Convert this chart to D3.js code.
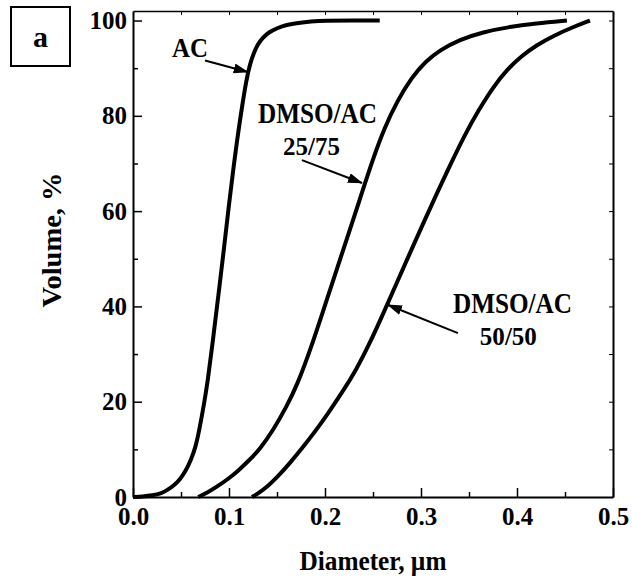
<!DOCTYPE html>
<html>
<head>
<meta charset="utf-8">
<script src="https://cdn.jsdelivr.net/npm/d3@7"></script>
<style>
body { margin: 0; background: #ffffff; }
text { font-family: "Liberation Serif", "Times New Roman", serif; font-weight: bold; fill: #000000; }
</style>
</head>
<body>
<script>
// axis ticks
var xTicks = [0, 0.1, 0.2, 0.3, 0.4, 0.5];
var xTickLabels = ["0.0", "0.1", "0.2", "0.3", "0.4", "0.5"];
var xMinorTicks = [0.05, 0.15, 0.25, 0.35, 0.45];
var yTicks = [0, 20, 40, 60, 80, 100];
var yTickLabels = ["0", "20", "40", "60", "80", "100"];
var yMinorTicks = [10, 30, 50, 70, 90];

// AC
var acDiam = [0.000, 0.010, 0.020, 0.030, 0.036, 0.043, 0.049, 0.055, 0.060, 0.065, 0.069, 0.074, 0.078, 0.083, 0.089, 0.095, 0.100, 0.104, 0.108, 0.113, 0.118, 0.122, 0.126, 0.130, 0.135, 0.142, 0.150, 0.160, 0.172, 0.185, 0.200, 0.230, 0.257];
var acVol = [0, 0.1, 0.3, 0.8, 1.5, 2.5, 3.7, 5.5, 7.6, 10.3, 14, 19.5, 24.5, 32.5, 42.4, 52.5, 61.5, 68, 74.3, 81.2, 87.5, 91, 93.3, 95, 96.4, 97.6, 98.4, 99.1, 99.5, 99.8, 100, 100, 100];

// DMSO/AC 25/75
var d25Diam = [0.068, 0.078, 0.087, 0.100, 0.110, 0.120, 0.132, 0.146, 0.160, 0.171, 0.185, 0.202, 0.220, 0.236, 0.250, 0.262, 0.275, 0.290, 0.305, 0.320, 0.340, 0.365, 0.390, 0.420, 0.452];
var d25Vol = [0, 1, 2.1, 3.9, 5.6, 7.5, 10, 14, 19, 23.5, 31, 41.5, 52.5, 62.3, 71, 77.5, 83, 88, 91.5, 93.8, 96, 97.6, 98.6, 99.4, 100];

// DMSO/AC 50/50
var d50Diam = [0.124, 0.132, 0.140, 0.150, 0.163, 0.176, 0.190, 0.204, 0.218, 0.232, 0.246, 0.260, 0.274, 0.288, 0.302, 0.316, 0.330, 0.345, 0.360, 0.375, 0.390, 0.405, 0.420, 0.438, 0.458, 0.476];
var d50Vol = [0, 1, 2.2, 4.1, 7, 10.2, 13.8, 17.8, 22, 26.5, 32, 38.2, 44.6, 51, 57.3, 63.5, 69.5, 75.8, 81.2, 86, 89.8, 92.6, 94.8, 96.8, 98.6, 100];

var width = 632;
var height = 577;
var svg = d3.select("body")
	.append("svg")
	.attr("width", width)
	.attr("height", height);

var x = d3.scaleLinear()
	.domain([0, 0.5])
	.range([133, 613]);
var y = d3.scaleLinear()
	.domain([0, 102])
	.range([497, 11]);

function styleAxis (g, lineWidth) {
	g.attr("font-size", 25)
		.attr("font-family", "Liberation Serif")
		.attr("font-weight", "bold");
	g.select(".domain").attr("stroke-width", lineWidth);
	g.selectAll(".tick line").attr("stroke-width", 1.5);
}

// bottom + left main axes
svg.append("g")
	.attr("transform", "translate(0,497)")
	.call(d3.axisBottom(x)
		.tickValues(xTicks)
		.tickFormat(function (d, i) { return xTickLabels[i]; })
		.tickSizeInner(-9)
		.tickSizeOuter(0)
		.tickPadding(10))
	.call(styleAxis, 2);
svg.append("g")
	.attr("transform", "translate(0,497)")
	.call(d3.axisBottom(x)
		.tickValues(xMinorTicks)
		.tickFormat("")
		.tickSize(-5))
	.call(function (g) { g.select(".domain").remove(); g.selectAll("line").attr("stroke-width", 1.5); });

svg.append("g")
	.attr("transform", "translate(133,0)")
	.call(d3.axisLeft(y)
		.tickValues(yTicks)
		.tickFormat(function (d, i) { return yTickLabels[i]; })
		.tickSizeInner(-9)
		.tickSizeOuter(0)
		.tickPadding(6))
	.call(styleAxis, 2);
svg.append("g")
	.attr("transform", "translate(133,0)")
	.call(d3.axisLeft(y)
		.tickValues(yMinorTicks)
		.tickFormat("")
		.tickSize(-5))
	.call(function (g) { g.select(".domain").remove(); g.selectAll("line").attr("stroke-width", 1.5); });

// top + right frame with small ticks
svg.append("g")
	.attr("transform", "translate(0,11)")
	.call(d3.axisTop(x)
		.tickValues(d3.merge([xMinorTicks, xTicks.slice(1, 5)]))
		.tickFormat("")
		.tickSizeInner(-4)
		.tickSizeOuter(0))
	.call(function (g) { g.select(".domain").attr("stroke-width", 1.5); g.selectAll("line").attr("stroke-width", 1); });
svg.append("g")
	.attr("transform", "translate(613,0)")
	.call(d3.axisRight(y)
		.tickValues(d3.merge([yMinorTicks, yTicks.slice(1)]))
		.tickFormat("")
		.tickSizeInner(-4)
		.tickSizeOuter(0))
	.call(function (g) { g.select(".domain").attr("stroke-width", 2); g.selectAll("line").attr("stroke-width", 1); });

// axis titles
svg.append("text")
	.attr("x", 373)
	.attr("y", 570)
	.attr("text-anchor", "middle")
	.attr("font-size", 27)
	.attr("textLength", 147)
	.attr("lengthAdjust", "spacingAndGlyphs")
	.text("Diameter, \u00b5m");
svg.append("text")
	.attr("transform", "translate(61,240) rotate(-90)")
	.attr("text-anchor", "middle")
	.attr("font-size", 27)
	.attr("textLength", 135)
	.attr("lengthAdjust", "spacingAndGlyphs")
	.text("Volume, %");

// curves
var line = d3.line()
	.x(function (d) { return x(d[0]); })
	.y(function (d) { return y(d[1]); })
	.curve(d3.curveBasis);
[d3.zip(acDiam, acVol), d3.zip(d25Diam, d25Vol), d3.zip(d50Diam, d50Vol)].forEach(function (data) {
	svg.append("path")
		.datum(data)
		.attr("d", line)
		.attr("fill", "none")
		.attr("stroke", "#000000")
		.attr("stroke-width", 4);
});

// arrow marker
svg.append("defs")
	.append("marker")
	.attr("id", "head")
	.attr("markerUnits", "userSpaceOnUse")
	.attr("markerWidth", 15)
	.attr("markerHeight", 10)
	.attr("refX", 14)
	.attr("refY", 5)
	.attr("orient", "auto")
	.append("path")
	.attr("d", "M0,0L15,5L0,10Z")
	.attr("fill", "#000000");

// annotations: text lines in data units, arrow from -> tip in data units
var notes = [
	{ lines: [{ t: "AC", x: 0.0594, y: 92.3, size: 28, len: 36 }], from: [0.075, 91.6], to: [0.1195, 89.2] },
	{ lines: [{ t: "DMSO/AC", x: 0.1922, y: 78.5, size: 29, len: 119 }, { t: "25/75", x: 0.186, y: 71.8, size: 25, len: 57 }], from: [0.176, 70.7], to: [0.2385, 65.9] },
	{ lines: [{ t: "DMSO/AC", x: 0.3953, y: 38.6, size: 29, len: 119 }, { t: "50/50", x: 0.391, y: 31.9, size: 25, len: 57 }], from: [0.3385, 34.4], to: [0.2656, 40.3] }
];
notes.forEach(function (n) {
	n.lines.forEach(function (l) {
		svg.append("text")
			.attr("x", x(l.x))
			.attr("y", y(l.y))
			.attr("text-anchor", "middle")
			.attr("font-size", l.size)
			.attr("textLength", l.len)
			.attr("lengthAdjust", "spacingAndGlyphs")
			.text(l.t);
	});
	svg.append("line")
		.attr("x1", x(n.from[0]))
		.attr("y1", y(n.from[1]))
		.attr("x2", x(n.to[0]))
		.attr("y2", y(n.to[1]))
		.attr("stroke", "#000000")
		.attr("stroke-width", 2)
		.attr("marker-end", "url(#head)");
});

// panel letter
svg.append("rect")
	.attr("x", 11)
	.attr("y", 7)
	.attr("width", 59)
	.attr("height", 59)
	.attr("fill", "none")
	.attr("stroke", "#000000")
	.attr("stroke-width", 2);
svg.append("text")
	.attr("x", 40.5)
	.attr("y", 47)
	.attr("text-anchor", "middle")
	.attr("font-size", 30)
	.text("a");
</script>
</body>
</html>
